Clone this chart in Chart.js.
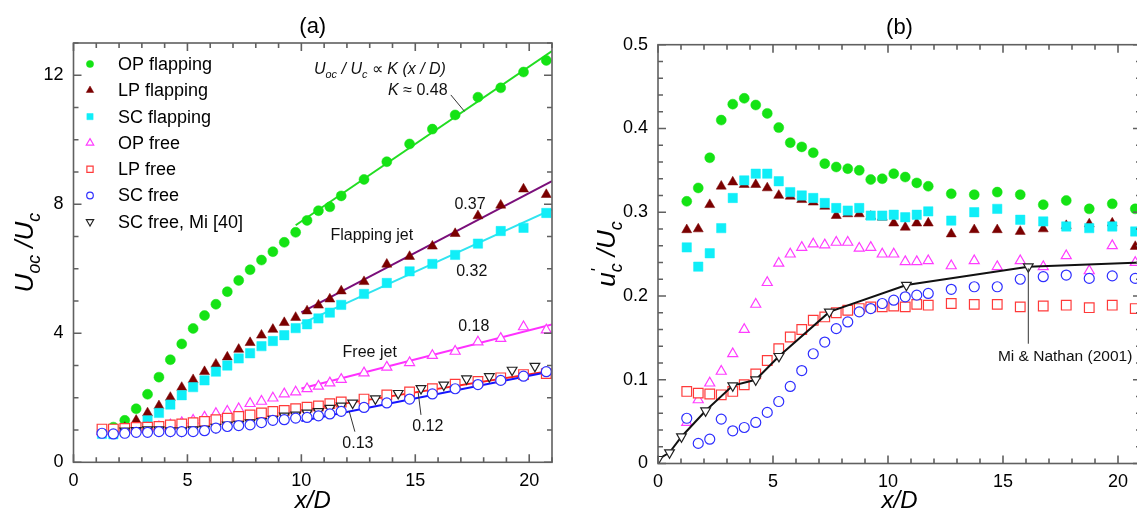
<!DOCTYPE html>
<html>
<head>
<meta charset="utf-8">
<title>Centreline velocity decay and turbulence intensity</title>
<script src="https://cdn.jsdelivr.net/npm/chart.js@4.4.1/dist/chart.umd.min.js"></script>
<style>
  html, body { margin: 0; padding: 0; background: #fff; overflow: hidden; }
  body { width: 1137px; height: 511px; position: relative; }
  .panel { position: absolute; top: 0; height: 511px; }
  #panelA { left: 0; width: 570px; }
  #panelB { left: 570px; width: 590px; }
</style>
</head>
<body>
<div class="panel" id="panelA"><canvas id="chartA" width="570" height="511"></canvas></div>
<div class="panel" id="panelB"><canvas id="chartB" width="590" height="511"></canvas></div>
<script>
// x/D stations of the measured profiles
const xStations = [1.25, 1.75, 2.25, 2.75, 3.25, 3.75, 4.25, 4.75, 5.25, 5.75, 6.25, 6.75, 7.25, 7.75, 8.25, 8.75, 9.25, 9.75, 10.25, 10.75, 11.25, 11.75, 12.75, 13.75, 14.75, 15.75, 16.75, 17.75, 18.75, 19.75, 20.75];

// (a) Uoc/Uc
const opFlapA = [null, 1.09, 1.30, 1.66, 2.11, 2.64, 3.18, 3.67, 4.15, 4.55, 4.90, 5.29, 5.64, 5.97, 6.27, 6.53, 6.82, 7.13, 7.50, 7.80, 7.92, 8.26, 8.77, 9.32, 9.87, 10.33, 10.77, 11.32, 11.61, 12.10, 12.46];
const lpFlapA = [0.95, 1.00, 1.08, 1.30, 1.53, 1.75, 2.01, 2.32, 2.56, 2.81, 3.04, 3.26, 3.50, 3.71, 3.94, 4.12, 4.33, 4.49, 4.69, 4.87, 5.06, 5.31, 5.60, 6.14, 6.38, 6.70, 7.09, 7.64, 7.97, 8.47, 8.30];
const scFlapA = [0.88, 0.87, 0.95, 1.08, 1.30, 1.53, 1.79, 2.08, 2.33, 2.54, 2.81, 3.00, 3.22, 3.38, 3.60, 3.76, 3.94, 4.16, 4.28, 4.46, 4.64, 4.88, 5.22, 5.56, 5.92, 6.15, 6.43, 6.78, 7.17, 7.27, 7.73];
const opFreeA = [0.95, 0.97, 1.00, 1.02, 1.06, 1.10, 1.16, 1.23, 1.30, 1.40, 1.51, 1.58, 1.66, 1.82, 1.89, 1.99, 2.12, 2.18, 2.28, 2.36, 2.46, 2.57, 2.77, 2.95, 3.09, 3.31, 3.44, 3.73, 3.84, 4.20, 4.10];
const lpFreeA = [1.03, 1.03, 1.05, 1.08, 1.09, 1.11, 1.16, 1.19, 1.23, 1.27, 1.32, 1.37, 1.42, 1.47, 1.53, 1.58, 1.61, 1.66, 1.71, 1.75, 1.82, 1.87, 1.96, 2.09, 2.18, 2.28, 2.42, 2.51, 2.62, 2.72, 2.75];
const scFreeA = [0.90, 0.88, 0.90, 0.93, 0.93, 0.95, 0.95, 0.95, 0.95, 0.98, 1.06, 1.11, 1.14, 1.16, 1.23, 1.30, 1.32, 1.37, 1.39, 1.44, 1.50, 1.58, 1.70, 1.84, 1.96, 2.12, 2.28, 2.41, 2.54, 2.67, 2.81];
const xMi40 = [2.25, 2.75, 3.25, 3.75, 4.25, 4.75, 5.25, 5.75, 6.25, 6.75, 7.25, 7.75, 8.25, 8.75, 9.25, 9.75, 10.25, 10.75, 11.25, 11.75, 12.25, 13.25, 14.25, 15.25, 16.25, 17.25, 18.25, 19.25, 20.25];
const mi40A = [0.97, 0.99, 1.01, 1.01, 0.98, 0.98, 1.01, 1.03, 1.09, 1.16, 1.18, 1.23, 1.27, 1.34, 1.44, 1.47, 1.53, 1.58, 1.68, 1.75, 1.84, 1.97, 2.14, 2.29, 2.40, 2.59, 2.66, 2.86, 2.98];

// (a) linear fits, end points
const fitOpX = [9.75, 21],  fitOpY = [7.35, 12.75];   // K = 0.48
const fitLpX = [10, 21],    fitLpY = [4.65, 8.72];    // K = 0.37
const fitScX = [10, 21],    fitScY = [4.30, 7.84];    // K = 0.32
const fitOpFX = [10, 21],   fitOpFY = [2.29, 4.27];   // K = 0.18
const fitLpFX = [10, 21],   fitLpFY = [1.61, 2.84];   // K = 0.12
const fitScFX = [10, 21],   fitScFY = [1.28, 2.82];   // K = 0.13

// (b) u'c/Uc
const opFlapB = [0.313, 0.329, 0.365, 0.410, 0.429, 0.436, 0.428, 0.418, 0.401, 0.383, 0.378, 0.371, 0.358, 0.354, 0.352, 0.350, 0.339, 0.340, 0.346, 0.342, 0.335, 0.331, 0.322, 0.321, 0.324, 0.321, 0.309, 0.314, 0.304, 0.310, 0.304];
const lpFlapB = [0.279, 0.280, 0.309, 0.331, 0.336, 0.333, 0.333, 0.329, 0.320, 0.319, 0.315, 0.312, 0.307, 0.296, 0.298, 0.298, 0.295, 0.294, 0.287, 0.282, 0.287, 0.287, 0.274, 0.279, 0.279, 0.277, 0.280, 0.284, 0.286, 0.287, 0.259];
const scFlapB = [0.258, 0.235, 0.251, 0.281, 0.317, 0.338, 0.346, 0.346, 0.337, 0.324, 0.320, 0.317, 0.311, 0.305, 0.302, 0.305, 0.296, 0.296, 0.297, 0.294, 0.297, 0.301, 0.290, 0.300, 0.304, 0.291, 0.289, 0.283, 0.281, 0.283, 0.277];
const opFreeB = [0.049, 0.076, 0.096, 0.110, 0.131, 0.160, 0.190, 0.216, 0.239, 0.250, 0.258, 0.262, 0.261, 0.264, 0.264, 0.257, 0.258, 0.250, 0.250, 0.241, 0.241, 0.242, 0.236, 0.242, 0.235, 0.242, 0.235, 0.248, 0.230, 0.260, 0.240];
const lpFreeB = [0.086, 0.084, 0.083, 0.082, 0.086, 0.094, 0.107, 0.123, 0.137, 0.151, 0.160, 0.171, 0.175, 0.180, 0.183, 0.185, 0.187, 0.187, 0.188, 0.187, 0.190, 0.189, 0.191, 0.190, 0.190, 0.187, 0.188, 0.189, 0.186, 0.189, 0.185];
const scFreeB = [0.054, 0.024, 0.029, 0.053, 0.039, 0.043, 0.049, 0.061, 0.074, 0.092, 0.111, 0.131, 0.145, 0.161, 0.169, 0.181, 0.185, 0.191, 0.195, 0.199, 0.201, 0.203, 0.208, 0.211, 0.211, 0.220, 0.223, 0.225, 0.221, 0.224, 0.221];
const xMiNathan = [0, 0.5, 1.02, 2.07, 3.25, 4.25, 5.26, 7.45, 10.8, 16.1, 21];
const miNathanB = [0.005, 0.013, 0.032, 0.063, 0.093, 0.100, 0.128, 0.181, 0.213, 0.235, 0.240];

const FONT = '"Liberation Sans", Arial, Helvetica, sans-serif';
const COL = {
  green: '#14e314', maroon: '#7b0000', cyan: '#10eef8', magenta: '#ff3cff',
  red: '#ff3a3a', blue: '#2f2fff', black: '#222222',
  greenLine: '#22dd22', purple: '#7a0f7a', cyanLine: '#30e4f0', frame: '#606060'
};

function xy(xs, ys) {
  const out = [];
  xs.forEach((x, i) => { if (ys[i] != null) out.push({ x: x, y: ys[i] }); });
  return out;
}

function markers(label, xs, ys, style, color, open, r, keyR, rot) {
  return {
    label: label, data: xy(xs, ys), showLine: false,
    pointStyle: style, pointRadius: r, pointRotation: rot || 0,
    pointBackgroundColor: open ? '#ffffff' : color,
    pointBorderColor: color, pointBorderWidth: open ? 1.2 : 0.5,
    keyRadius: keyR
  };
}

function fitLine(xs, ys, color) {
  return { label: '', data: xy(xs, ys), showLine: true, borderColor: color, borderWidth: 2, pointRadius: 0 };
}

// text with italic / subscript / superscript runs
function drawRich(ctx, parts, x, y, align, size) {
  const runs = parts.map(p => {
    const k = p[1] || 'n';
    const small = k === 'sub' || k === 'sup';
    const fs = small ? size * 0.68 : size;
    const font = (k === 'n' ? '' : 'italic ') + fs + 'px ' + FONT;
    ctx.font = font;
    const w = p[2] === 0 ? 0 : ctx.measureText(p[0]).width;
    const dy = k === 'sub' ? size * 0.27 : (k === 'sup' ? -size * 0.42 : 0);
    return { t: p[0], font: font, w: w, dy: dy };
  });
  const total = runs.reduce((s, r) => s + r.w, 0);
  let cx = align === 'center' ? x - total / 2 : (align === 'right' ? x - total : x);
  ctx.textAlign = 'left';
  ctx.textBaseline = 'alphabetic';
  runs.forEach(r => { ctx.font = r.font; ctx.fillText(r.t, cx, y + r.dy); cx += r.w; });
}

// box round the plot with inward ticks on all four sides
const framePlugin = {
  id: 'frame',
  afterDraw(chart, args, o) {
    const { ctx, chartArea: a, scales: { x, y } } = chart;
    ctx.save();
    ctx.strokeStyle = COL.frame;
    ctx.lineWidth = 1.6;
    ctx.strokeRect(a.left, a.top, a.right - a.left, a.bottom - a.top);
    ctx.beginPath();
    const isMajor = (v, step) => Math.abs(v / step - Math.round(v / step)) < 1e-6;
    const nx = Math.round((x.max - x.min) / o.xMinor);
    for (let i = 0; i <= nx; i++) {
      const v = x.min + i * o.xMinor;
      const len = isMajor(v, o.xMajor) ? o.major : o.minor;
      const p = x.getPixelForValue(v);
      ctx.moveTo(p, a.bottom); ctx.lineTo(p, a.bottom - len);
      ctx.moveTo(p, a.top); ctx.lineTo(p, a.top + len);
    }
    const ny = Math.round((y.max - y.min) / o.yMinor);
    for (let i = 0; i <= ny; i++) {
      const v = y.min + i * o.yMinor;
      const len = isMajor(v, o.yMajor) ? o.major : o.minor;
      const p = y.getPixelForValue(v);
      ctx.moveTo(a.left, p); ctx.lineTo(a.left + len, p);
      ctx.moveTo(a.right, p); ctx.lineTo(a.right - len, p);
    }
    ctx.stroke();
    ctx.restore();
  }
};

// legend drawn inside the plot, from the marker datasets
const keyPlugin = {
  id: 'keybox',
  afterDraw(chart, args, o) {
    if (!o.show) return;
    const { ctx, chartArea: a } = chart;
    const sets = chart.data.datasets.filter(d => d.keyRadius);
    const order = o.order.map(lbl => sets.find(d => d.label === lbl));
    order.forEach((d, i) => {
      const cx = a.left + o.left;
      const cy = a.top + o.top + i * o.gap;
      ctx.save();
      ctx.fillStyle = d.pointBackgroundColor;
      ctx.strokeStyle = d.pointBorderColor;
      ctx.lineWidth = d.pointBorderWidth;
      Chart.helpers.drawPoint(ctx, {
        pointStyle: d.pointStyle, radius: d.keyRadius,
        rotation: d.pointRotation, borderWidth: d.pointBorderWidth
      }, cx, cy);
      ctx.fillStyle = '#000';
      ctx.font = o.size + 'px ' + FONT;
      ctx.textAlign = 'left';
      ctx.textBaseline = 'middle';
      ctx.fillText(d.label, cx + o.textGap, cy + 1);
      ctx.restore();
    });
  }
};

// text notes and leader lines placed in data units
const notesPlugin = {
  id: 'notes',
  afterDatasetsDraw(chart, args, o) {
    const { ctx, scales: { x, y } } = chart;
    ctx.save();
    ctx.fillStyle = '#111';
    ctx.strokeStyle = '#333';
    ctx.lineWidth = 1;
    (o.items || []).forEach(n => {
      if (n.from) {
        ctx.beginPath();
        ctx.moveTo(x.getPixelForValue(n.from[0]), y.getPixelForValue(n.from[1]));
        ctx.lineTo(x.getPixelForValue(n.to[0]), y.getPixelForValue(n.to[1]));
        ctx.stroke();
      } else {
        drawRich(ctx, n.parts, x.getPixelForValue(n.at[0]), y.getPixelForValue(n.at[1]), 'center', n.size);
      }
    });
    ctx.restore();
  }
};

// panel letter and axis titles
const titlesPlugin = {
  id: 'titles',
  afterDraw(chart, args, o) {
    const { ctx, chartArea: a } = chart;
    const cx = (a.left + a.right) / 2;
    ctx.save();
    ctx.fillStyle = '#000';
    drawRich(ctx, [[o.panel, 'n']], cx, o.panelY, 'center', 22);
    drawRich(ctx, o.xTitle, cx, o.xTitleY, 'center', 24);
    ctx.translate(o.yTitleX, (a.top + a.bottom) / 2);
    ctx.rotate(-Math.PI / 2);
    drawRich(ctx, o.yTitle, 0, 0, 'center', 26);
    ctx.restore();
  }
};

function axis(max, step, pad, fit) {
  return {
    type: 'linear', min: 0, max: max, afterFit: fit,
    grid: { display: false, drawTicks: false }, border: { display: false },
    ticks: { stepSize: step, includeBounds: false, padding: pad, color: '#000', maxRotation: 0, font: { family: FONT, size: 18 } }
  };
}

function makeChart(id, datasets, o) {
  return new Chart(document.getElementById(id), {
    type: 'scatter',
    data: { datasets: datasets },
    options: {
      responsive: false, animation: false, events: [],
      layout: { padding: { left: 0, top: o.top, right: o.right, bottom: 0 } },
      scales: {
        x: axis(o.xMax, o.xStep, 8, s => { s.height = o.xh; }),
        y: axis(o.yMax, o.yStep, 10, s => { s.width = o.yw; })
      },
      plugins: {
        legend: { display: false },
        tooltip: { enabled: false },
        frame: o.frame,
        keybox: o.key,
        notes: { items: o.notes },
        titles: o.titles
      }
    },
    plugins: [framePlugin, notesPlugin, keyPlugin, titlesPlugin]
  });
}

const F_X = [['x/D', 'i']];

// ---------- (a) ----------
makeChart('chartA', [
  markers('SC free', xStations, scFreeA, 'circle', COL.blue, true, 5, 3.3),
  markers('SC free, Mi [40]', xMi40, mi40A, 'triangle', COL.black, true, 5.6, 4.2, 180),
  markers('LP free', xStations, lpFreeA, 'rect', COL.red, true, 6.8, 4.4),
  markers('OP free', xStations, opFreeA, 'triangle', COL.magenta, true, 5.8, 4.3),
  markers('SC flapping', xStations, scFlapA, 'rect', COL.cyan, false, 6.6, 4.4),
  markers('LP flapping', xStations, lpFlapA, 'triangle', COL.maroon, false, 5.8, 4.3),
  markers('OP flapping', xStations, opFlapA, 'circle', COL.green, false, 5, 3.6),
  fitLine(fitScFX, fitScFY, '#1515ff'),
  fitLine(fitLpFX, fitLpFY, '#ff2020'),
  fitLine(fitOpFX, fitOpFY, '#ff30ff'),
  fitLine(fitScX, fitScY, COL.cyanLine),
  fitLine(fitLpX, fitLpY, COL.purple),
  fitLine(fitOpX, fitOpY, COL.greenLine)
], {
  top: 43, right: 18, xh: 48.7, yw: 73.5,
  xMax: 21, xStep: 5, yMax: 13, yStep: 4,
  frame: { xMinor: 1, xMajor: 5, yMinor: 1, yMajor: 4, major: 8, minor: 5 },
  key: {
    show: true, left: 16.5, top: 21, gap: 26.3, textGap: 28, size: 18,
    order: ['OP flapping', 'LP flapping', 'SC flapping', 'OP free', 'LP free', 'SC free', 'SC free, Mi [40]']
  },
  notes: [
    { at: [13.45, 12.05], size: 16, parts: [['U', 'i'], ['oc', 'sub'], [' / ', 'i'], ['U', 'i'], ['c', 'sub'], [' \u221D ', 'n'], ['K', 'i'], [' (', 'i'], ['x', 'i'], [' / ', 'i'], ['D', 'i'], [')', 'i']] },
    { at: [15.11, 11.40], size: 16, parts: [['K', 'i'], [' \u2248 0.48', 'n']] },
    { from: [16.56, 11.39], to: [17.16, 10.88] },
    { at: [17.40, 7.86], size: 16, parts: [['0.37', 'n']] },
    { at: [13.09, 6.90], size: 16, parts: [['Flapping jet', 'n']] },
    { at: [17.48, 5.79], size: 16, parts: [['0.32', 'n']] },
    { at: [17.57, 4.08], size: 16, parts: [['0.18', 'n']] },
    { at: [13.00, 3.27], size: 16, parts: [['Free jet', 'n']] },
    { at: [15.55, 0.96], size: 16, parts: [['0.12', 'n']] },
    { from: [15.25, 1.47], to: [15.13, 2.15] },
    { at: [12.48, 0.45], size: 16, parts: [['0.13', 'n']] },
    { from: [12.35, 0.95], to: [12.10, 1.58] }
  ],
  titles: {
    panel: '(a)', panelY: 33, xTitle: F_X, xTitleY: 508, yTitleX: 33,
    yTitle: [['U', 'i'], ['oc', 'sub'], [' /', 'i'], ['U', 'i'], ['c', 'sub']]
  }
});

// ---------- (b) ----------
makeChart('chartB', [
  {
    label: 'Mi & Nathan (2001)', data: xy(xMiNathan, miNathanB), showLine: true,
    borderColor: '#111', borderWidth: 2,
    pointStyle: 'triangle', pointRotation: 180,
    pointRadius: c => (c.dataIndex === xMiNathan.length - 1 ? 0 : 5.6),
    pointBackgroundColor: '#ffffff', pointBorderColor: '#222', pointBorderWidth: 1.2
  },
  markers('SC free', xStations, scFreeB, 'circle', COL.blue, true, 5, 3.3),
  markers('LP free', xStations, lpFreeB, 'rect', COL.red, true, 6.8, 4.4),
  markers('OP free', xStations, opFreeB, 'triangle', COL.magenta, true, 5.8, 4.3),
  markers('SC flapping', xStations, scFlapB, 'rect', COL.cyan, false, 6.6, 4.4),
  markers('LP flapping', xStations, lpFlapB, 'triangle', COL.maroon, false, 5.8, 4.3),
  markers('OP flapping', xStations, opFlapB, 'circle', COL.green, false, 5, 3.6)
], {
  top: 44.7, right: 19, xh: 47.5, yw: 88,
  xMax: 21, xStep: 5, yMax: 0.5, yStep: 0.1,
  frame: { xMinor: 1, xMajor: 5, yMinor: 0.02, yMajor: 0.1, major: 8, minor: 5 },
  key: { show: false },
  notes: [
    { at: [17.7, 0.122], size: 15.5, parts: [['Mi & Nathan (2001)', 'n']] },
    { from: [16.1, 0.233], to: [16.1, 0.143] }
  ],
  titles: {
    panel: '(b)', panelY: 34, xTitle: F_X, xTitleY: 508, yTitleX: 45,
    yTitle: [['u', 'i'], ["'", 'sup', 0], ['c', 'sub'], [' /', 'i'], ['U', 'i'], ['c', 'sub']]
  }
});
</script>
</body>
</html>
